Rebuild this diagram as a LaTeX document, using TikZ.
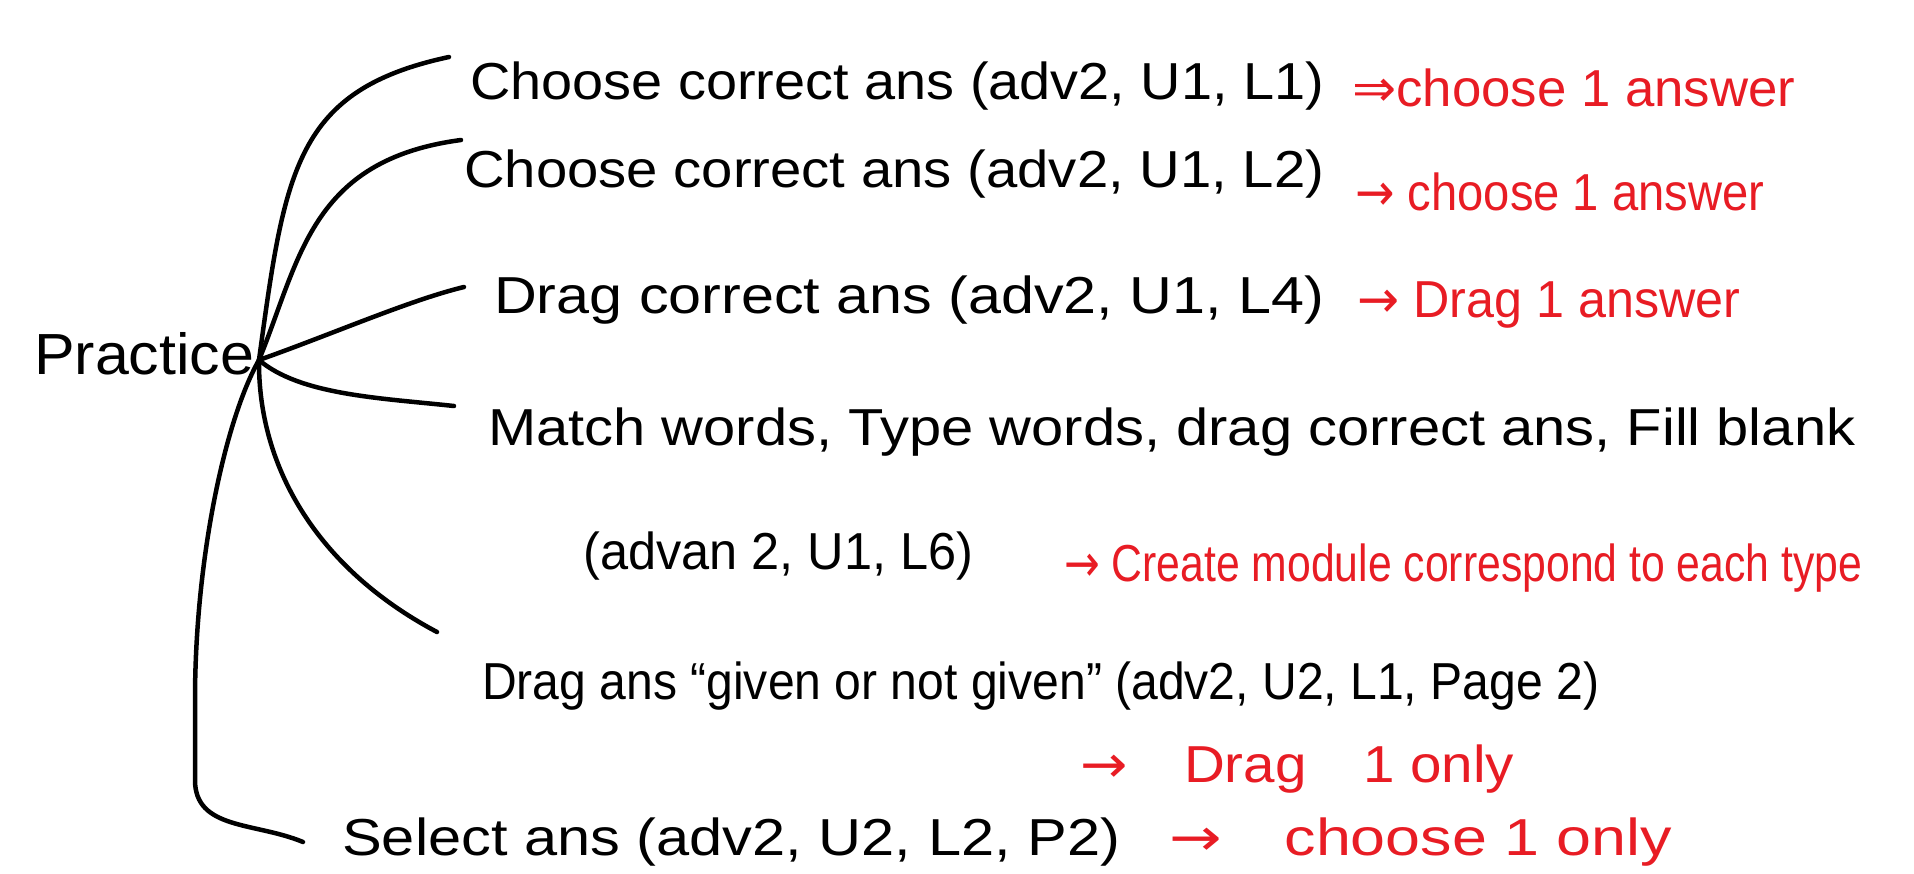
\documentclass[tikz,border=0pt]{standalone}
\usepackage{fontspec}
\setmainfont{Liberation Sans}
\newfontfamily\arrowfont{DejaVu Sans}
\definecolor{inkred}{RGB}{232,28,36}
\newcommand{\fitw}[2]{\resizebox{#1}{\height}{#2}}
\begin{document}
\begin{tikzpicture}[x=1pt,y=-1pt,
  ink/.style={line width=4.5pt, line cap=round, line join=round},
  blk/.style={anchor=west, inner sep=0pt, font=\fontsize{52}{56}\selectfont},
  rd/.style={blk, text=inkred}]
\useasboundingbox[fill=white] (0,0) rectangle (1914,873);

% root
\node[blk, font=\fontsize{58}{62}\selectfont] (p) at (34,354) {\fitw{220pt}{Practice}};
\coordinate (hub) at (259,360);

% branch ends
\coordinate (e1) at (449,57);
\coordinate (e2) at (461,140);
\coordinate (e3) at (464,287);
\coordinate (e4) at (454,406);
\coordinate (e5) at (437,632);
\coordinate (e6) at (303,842);

% branches
\draw[ink] (hub) .. controls (285,170) and (295,90) .. (e1);
\draw[ink] (hub) .. controls (300,260) and (310,160) .. (e2);
\draw[ink] (hub) .. controls (330,335) and (410,300) .. (e3);
\draw[ink] (hub) .. controls (300,395) and (380,398) .. (e4);
\draw[ink] (hub) .. controls (258,470) and (320,570) .. (e5);
\draw[ink] (hub) .. controls (225,420) and (195,560) .. (195,700) -- (195,780)
  .. controls (195,830) and (255,822) .. (e6);

% black items
\node[blk] (n1) at (470,86)  {\fitw{854pt}{Choose correct ans (adv2, U1, L1)}};
\node[blk] (n2) at (464,174) {\fitw{860pt}{Choose correct ans (adv2, U1, L2)}};
\node[blk] (n3) at (494,300) {\fitw{830pt}{Drag correct ans (adv2, U1, L4)}};
\node[blk] (n4) at (488,432) {\fitw{1367pt}{Match words, Type words, drag correct ans, Fill blank}};
\node[blk] (n5) at (583,556) {\fitw{390pt}{(advan 2, U1, L6)}};
\node[blk] (n6) at (482,686) {\fitw{1117pt}{Drag ans ``given or not given'' (adv2, U2, L1, Page 2)}};
\node[blk] (n7) at (342,842) {\fitw{778pt}{Select ans (adv2, U2, L2, P2)}};

% red notes
\node[rd] (r1) at (1352,88)  {\fitw{443pt}{{\arrowfont ⇒}choose 1 answer}};
\node[rd] (r2) at (1355,192) {\fitw{409pt}{{\arrowfont →} choose 1 answer}};
\node[rd] (r3) at (1357,305) {\fitw{383pt}{{\arrowfont →} Drag 1 answer}};
\node[rd] (r5) at (1064,568) {\fitw{798pt}{{\arrowfont →} Create module correspond to each type}};
\node[rd] (r6) at (1080,769) {\fitw{434pt}{{\arrowfont →}\quad Drag\quad 1 only}};
\node[rd] (r7) at (1169,842) {\fitw{503pt}{{\arrowfont →}\quad choose 1 only}};
\end{tikzpicture}
\end{document}
